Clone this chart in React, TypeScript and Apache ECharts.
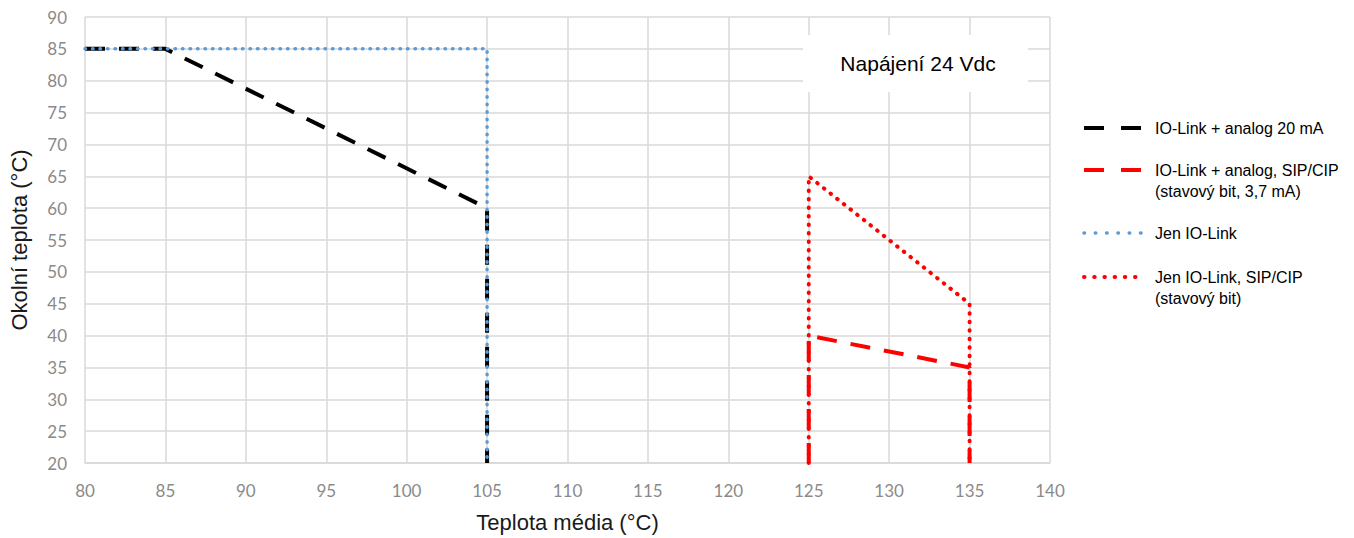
import React, { useEffect, useRef } from "react";
import * as echarts from "echarts";

const blackDashed: number[][] = [[80, 85], [85, 85], [105, 60], [105, 20]];
const redDashed: number[][] = [[125, 20], [125, 40], [135, 35], [135, 20]];
const blueDotted: number[][] = [[80, 85], [105, 85], [105, 20]];
const redDotted: number[][] = [[125, 20], [125, 65], [135, 45], [135, 20]];

const seriesNames = [
  "IO-Link + analog 20 mA",
  "IO-Link + analog, SIP/CIP\n(stavový bit, 3,7 mA)",
  "Jen IO-Link",
  "Jen IO-Link, SIP/CIP\n(stavový bit)",
];
const boxTitle = "Napájení 24 Vdc";
const xTitle = "Teplota média (°C)";
const yTitle = "Okolní teplota (°C)";

const BLACK = "#000000";
const RED = "#ff0000";
const BLUE = "#5b9bd5";
const SANS = "'Liberation Sans', Arial, sans-serif";

export default function App() {
  const ref = useRef<HTMLDivElement>(null);
  useEffect(() => {
    if (!ref.current) return;
    const chart = echarts.init(ref.current, undefined, { renderer: "svg" });
    const dashStyle = (color: string) => ({
      color,
      width: 4,
      type: [20, 14] as any,
      cap: "butt" as const,
    });
    const dotStyle = (color: string, w: number, gap: number) => ({
      color,
      width: w,
      type: [0.5, gap] as any,
      cap: "round" as const,
    });
    const legendY = [128, 170, 233, 277];
    const legendStyles = [
      { stroke: BLACK, lineWidth: 4, lineDash: [20, 17], lineCap: "butt" },
      { stroke: RED, lineWidth: 4, lineDash: [20, 17], lineCap: "butt" },
      { stroke: BLUE, lineWidth: 3.5, lineDash: [0.5, 10.8], lineCap: "round" },
      { stroke: RED, lineWidth: 4, lineDash: [0.5, 9.7], lineCap: "round" },
    ];
    const legendGraphics: any[] = [];
    seriesNames.forEach((name, i) => {
      legendGraphics.push({
        type: "line",
        shape: { x1: 1084, y1: legendY[i], x2: 1142, y2: legendY[i] },
        style: legendStyles[i],
        silent: true,
      });
      legendGraphics.push({
        type: "text",
        x: 1155,
        y: legendY[i] - 10.5,
        style: {
          text: name,
          font: "16px " + SANS,
          fill: "#000",
          lineHeight: 21,
          verticalAlign: "top",
        },
        silent: true,
      });
    });

    chart.setOption({
      animation: false,
      backgroundColor: "#ffffff",
      textStyle: { fontFamily: SANS },
      grid: { left: 84, right: 304, top: 17, bottom: 75, containLabel: false },
      xAxis: {
        type: "value",
        min: 80,
        max: 140,
        interval: 5,
        name: xTitle,
        nameLocation: "middle",
        nameGap: 48,
        nameTextStyle: { fontSize: 22, color: "#1a1a1a", fontFamily: SANS },
        axisLine: { show: true, lineStyle: { color: "#d9d9d9", width: 1.5 } },
        axisTick: { show: false },
        axisLabel: { fontSize: 17, color: "#8a8a8a", margin: 19, fontFamily: "Lato, sans-serif" },
        splitLine: { show: true, lineStyle: { color: "#d9d9d9", width: 1.5 } },
      },
      yAxis: {
        type: "value",
        min: 20,
        max: 90,
        interval: 5,
        name: yTitle,
        nameLocation: "middle",
        nameGap: 55,
        nameTextStyle: { fontSize: 22, color: "#1a1a1a", fontFamily: SANS },
        axisLine: { show: false },
        axisTick: { show: false },
        axisLabel: { fontSize: 17, color: "#8a8a8a", margin: 18, fontFamily: "Lato, sans-serif" },
        splitLine: { show: true, lineStyle: { color: "#d9d9d9", width: 1.5 } },
      },
      series: [
        { name: seriesNames[0], type: "line", data: blackDashed, symbol: "none", lineStyle: dashStyle(BLACK), z: 2 },
        { name: seriesNames[1], type: "line", data: redDashed, symbol: "none", lineStyle: dashStyle(RED), z: 2 },
        { name: seriesNames[2], type: "line", data: blueDotted, symbol: "none", lineStyle: dotStyle(BLUE, 3.5, 7), z: 3 },
        { name: seriesNames[3], type: "line", data: redDotted, symbol: "none", lineStyle: dotStyle(RED, 4, 8), z: 3 },
      ],
      graphic: [
        {
          type: "rect",
          shape: { x: 803, y: 35, width: 225, height: 57 },
          style: { fill: "#ffffff" },
          z: 10,
          silent: true,
        },
        {
          type: "text",
          x: 918,
          y: 63,
          style: {
            text: boxTitle,
            font: "21px " + SANS,
            fill: "#000",
            align: "center",
            verticalAlign: "middle",
          },
          z: 11,
          silent: true,
        },
        ...legendGraphics,
      ],
    });
    return () => chart.dispose();
  }, []);
  return (
    <div
      ref={ref}
      style={{ position: "absolute", left: 0, top: 0, width: 1354, height: 538, background: "#fff" }}
    />
  );
}
